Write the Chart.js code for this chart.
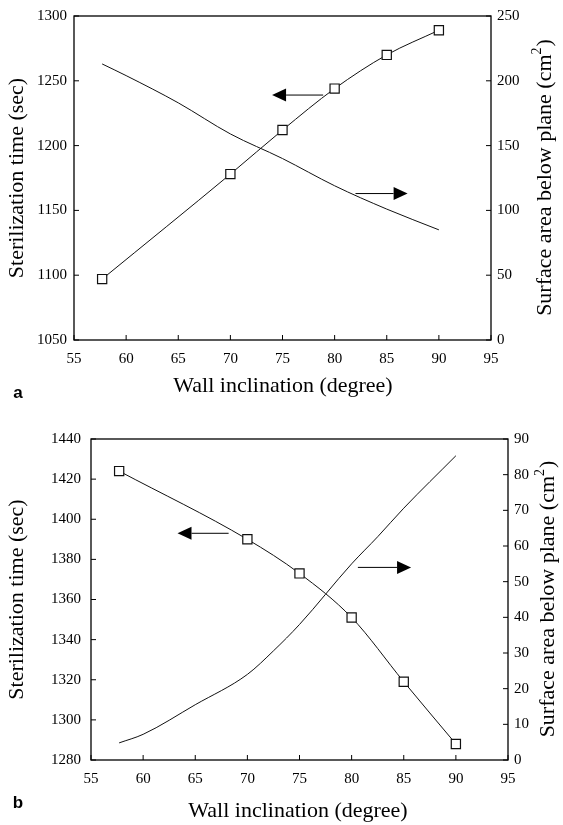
<!DOCTYPE html>
<html>
<head>
<meta charset="utf-8">
<script src="https://cdn.jsdelivr.net/npm/chart.js@4.4.0/dist/chart.umd.min.js"></script>
<style>
  body { margin: 0; background: #fff; }
  canvas { display: block; }
</style>
</head>
<body>
<canvas id="chartA" width="563" height="420"></canvas>
<canvas id="chartB" width="563" height="405"></canvas>
<script>
// panel a
const angleA = [57.7, 70, 75, 80, 85, 90];
const timeA = [1097, 1178, 1212, 1244, 1270, 1289];
const areaAngleA = [57.7, 60, 65, 70, 75, 80, 85, 90];
const areaA = [213, 204, 183, 159, 140, 119, 101, 85];
// arrows: [x tail, x head, y on left axis]
const arrowsA = [[78.9, 74.0, 1239], [82.0, 87.0, 1163]];

// panel b
const angleB = [57.7, 70, 75, 80, 85, 90];
const timeB = [1424, 1390, 1373, 1351, 1319, 1288];
const areaAngleB = [57.7, 60, 65, 70, 72.5, 75, 80, 82.5, 85, 90];
const areaB = [4.8, 7.2, 15.5, 24, 30.6, 38, 55, 62.6, 70.6, 85.3];
const arrowsB = [[68.2, 63.3, 1393], [80.6, 85.7, 1376]];

const xTitle = "Wall inclination (degree)";
const yTitle = "Sterilization time (sec)";
const y1Title = "Surface area below plane (cm";

const serif = "'Liberation Serif', 'Times New Roman', serif";
const titleSize = 22;

function pts(xs, ys) {
    return xs.map((x, i) => ({ x: x, y: ys[i] }));
}

const decor = {
    id: 'decor',
    afterDraw(chart, args, o) {
        const ctx = chart.ctx;
        const a = chart.chartArea;
        const sx = chart.scales.x, sy = chart.scales.y, sy1 = chart.scales.y1;
        ctx.save();
        ctx.strokeStyle = '#000';
        ctx.lineWidth = 1.3;
        ctx.strokeRect(a.left, a.top, a.right - a.left, a.bottom - a.top);

        // inward ticks
        ctx.lineWidth = 1;
        ctx.beginPath();
        sx.ticks.forEach(t => {
            const p = sx.getPixelForValue(t.value);
            ctx.moveTo(p, a.bottom); ctx.lineTo(p, a.bottom - 5);
        });
        sy.ticks.forEach(t => {
            const p = sy.getPixelForValue(t.value);
            ctx.moveTo(a.left, p); ctx.lineTo(a.left + 5, p);
        });
        sy1.ticks.forEach(t => {
            const p = sy1.getPixelForValue(t.value);
            ctx.moveTo(a.right, p); ctx.lineTo(a.right - 5, p);
        });
        ctx.stroke();

        // arrows
        ctx.fillStyle = '#000';
        o.arrows.forEach(ar => {
            const x0 = sx.getPixelForValue(ar[0]);
            const x1 = sx.getPixelForValue(ar[1]);
            const y = sy.getPixelForValue(ar[2]);
            const dir = x1 > x0 ? 1 : -1;
            const hx = x1 - dir * 14;
            ctx.beginPath();
            ctx.moveTo(x0, y); ctx.lineTo(hx, y);
            ctx.stroke();
            ctx.beginPath();
            ctx.moveTo(x1, y); ctx.lineTo(hx, y - 6.5); ctx.lineTo(hx, y + 6.5);
            ctx.closePath();
            ctx.fill();
        });

        // titles
        const big = titleSize + 'px ' + serif;
        const small = '14px ' + serif;
        const midY = (a.top + a.bottom) / 2;
        ctx.fillStyle = '#000';
        ctx.textBaseline = 'middle';
        ctx.textAlign = 'center';
        ctx.font = big;
        ctx.fillText(xTitle, o.xTitleX, o.xTitleY);

        ctx.save();
        ctx.translate(o.yTitleX, midY);
        ctx.rotate(-Math.PI / 2);
        ctx.fillText(yTitle, 0, 0);
        ctx.restore();

        ctx.save();
        ctx.translate(o.y1TitleX, midY);
        ctx.rotate(-Math.PI / 2);
        ctx.font = big;
        const w1 = ctx.measureText(y1Title).width;
        const w3 = ctx.measureText(')').width;
        ctx.font = small;
        const w2 = ctx.measureText('2').width;
        const x = -(w1 + w2 + w3) / 2;
        ctx.textAlign = 'left';
        ctx.font = big;
        ctx.fillText(y1Title, x, 0);
        ctx.fillText(')', x + w1 + w2 + 1, 0);
        ctx.font = small;
        ctx.fillText('2', x + w1, -8);
        ctx.restore();

        ctx.font = 'bold 17px "Liberation Sans", Arial, sans-serif';
        ctx.textAlign = 'center';
        ctx.fillText(o.letter, o.letterX, o.letterY);
        ctx.restore();
    }
};

function makeChart(id, d) {
    const tickFont = { family: serif, size: 15 };
    const noGrid = { display: false, drawTicks: false, tickLength: 0 };
    return new Chart(document.getElementById(id), {
        type: 'scatter',
        data: {
            datasets: [{
                data: pts(d.angle, d.time),
                yAxisID: 'y',
                showLine: true,
                borderColor: '#111',
                borderWidth: 1,
                cubicInterpolationMode: 'monotone',
                pointStyle: 'rect',
                pointRadius: 6.5,
                pointBackgroundColor: '#fff',
                pointBorderColor: '#111',
                pointBorderWidth: 1.2
            }, {
                data: pts(d.areaAngle, d.area),
                yAxisID: 'y1',
                showLine: true,
                borderColor: '#111',
                borderWidth: 1,
                cubicInterpolationMode: 'monotone',
                pointRadius: 0
            }]
        },
        options: {
            responsive: false,
            animation: false,
            devicePixelRatio: 1,
            layout: { padding: { top: d.top, left: 0, right: 0, bottom: 0 } },
            plugins: {
                legend: { display: false },
                tooltip: { enabled: false },
                decor: d.decor
            },
            scales: {
                x: {
                    type: 'linear',
                    min: 55, max: 95,
                    ticks: { stepSize: 5, color: '#000', padding: 10, font: tickFont, callback: v => v },
                    grid: noGrid,
                    border: { display: false },
                    afterFit: s => { s.height = d.bottomH; }
                },
                y: {
                    position: 'left',
                    min: d.yMin, max: d.yMax,
                    ticks: { stepSize: d.yStep, color: '#000', padding: d.leftPad, font: tickFont, callback: v => v },
                    grid: noGrid,
                    border: { display: false },
                    afterFit: s => { s.width = d.leftW; }
                },
                y1: {
                    position: 'right',
                    min: d.y1Min, max: d.y1Max,
                    ticks: { stepSize: d.y1Step, color: '#000', padding: 6, font: tickFont, callback: v => v },
                    grid: noGrid,
                    border: { display: false },
                    afterFit: s => { s.width = d.rightW; }
                }
            }
        },
        plugins: [decor]
    });
}

makeChart('chartA', {
    angle: angleA, time: timeA, areaAngle: areaAngleA, area: areaA,
    yMin: 1050, yMax: 1300, yStep: 50, y1Min: 0, y1Max: 250, y1Step: 50,
    top: 15, leftW: 74, rightW: 563 - 491, bottomH: 420 - 340, leftPad: 7,
    decor: { arrows: arrowsA, letter: 'a', letterX: 18, letterY: 393,
             xTitleX: 283, xTitleY: 386, yTitleX: 17, y1TitleX: 545 }
});

makeChart('chartB', {
    angle: angleB, time: timeB, areaAngle: areaAngleB, area: areaB,
    yMin: 1280, yMax: 1440, yStep: 20, y1Min: 0, y1Max: 90, y1Step: 10,
    top: 17, leftW: 91, rightW: 563 - 508, bottomH: 405 - 340, leftPad: 10,
    decor: { arrows: arrowsB, letter: 'b', letterX: 18, letterY: 383,
             xTitleX: 298, xTitleY: 391, yTitleX: 17, y1TitleX: 548 }
});
</script>
</body>
</html>
